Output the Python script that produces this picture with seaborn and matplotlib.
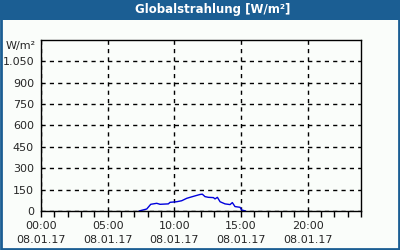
import matplotlib
matplotlib.use("Agg")
import matplotlib.pyplot as plt
from matplotlib.patches import Rectangle
from matplotlib.ticker import FuncFormatter, MultipleLocator
import seaborn as sns
import pandas as pd

# hours of the day (08.01.17) and global radiation in W/m²
hours = [7.35, 7.93, 8.23, 8.68, 8.93, 9.55, 9.68, 10.18, 10.55, 10.93, 11.18,
         11.55, 11.93, 12.1, 12.3, 12.55, 12.93, 13.05, 13.23, 13.43, 13.8,
         14.18, 14.35, 14.55, 14.93, 15.05, 15.35]
radiation = [0, 14, 47, 54, 47, 50, 61, 65, 72, 89, 96,
             106, 116, 118, 101, 96, 94, 85, 96, 65, 50,
             45, 59, 31, 26, 7, 0]
x_labels = ["00:00\n08.01.17", "05:00\n08.01.17", "10:00\n08.01.17",
            "15:00\n08.01.17", "20:00\n08.01.17"]

df = pd.DataFrame({"hour": hours, "wm2": radiation})

sns.set_style("white")
plt.rcParams["font.family"] = ["DejaVu Sans"]

blue = "#1b5e93"
bg = "#fafdfa"

fig = plt.figure(figsize=(4, 2.5), dpi=100, facecolor=bg)
ax = fig.add_axes([41 / 400, 39 / 250, 320 / 400, 171 / 250])
ax.set_facecolor(bg)

sns.lineplot(data=df, x="hour", y="wm2", ax=ax, color="#0000dd", linewidth=1)

ax.set_xlim(0, 24)
ax.set_ylim(0, 1200)
ax.set_xlabel("")
ax.set_ylabel("")

ax.set_xticks([0, 5, 10, 15, 20])
ax.set_xticklabels(x_labels, fontsize=8, linespacing=1.5)
ax.xaxis.set_minor_locator(MultipleLocator(1))
ax.set_yticks([0, 150, 300, 450, 600, 750, 900, 1050])
ax.yaxis.set_major_formatter(FuncFormatter(lambda v, p: f"{int(v):,}".replace(",", ".")))
ax.tick_params(axis="y", length=0, labelsize=8, pad=5)
ax.tick_params(axis="x", which="both", direction="out", length=4, width=1,
               color="black", bottom=True, pad=3)

ax.grid(True, color="black", linestyle=(0, (3, 3)), linewidth=1)
for s in ax.spines.values():
    s.set_visible(True)
    s.set_color("black")
    s.set_linewidth(1)

fig.text(36 / 400, 1 - 46 / 250, "W/m²", ha="right", va="center", fontsize=8)

# title bar and frame
fig.patches.append(Rectangle((0, 1 - 20 / 250), 1, 20 / 250, transform=fig.transFigure,
                             facecolor=blue, edgecolor="none", zorder=0))
fig.patches.append(Rectangle((0.0025, 0.004), 0.995, 0.992, transform=fig.transFigure,
                             facecolor="none", edgecolor=blue, linewidth=2, zorder=5))
fig.text(213 / 400, 1 - 10 / 250, "Globalstrahlung [W/m²]", ha="center", va="center",
         color="white", fontsize=8.5, fontweight="bold")

fig.savefig("out.png", dpi=100, facecolor=bg)
